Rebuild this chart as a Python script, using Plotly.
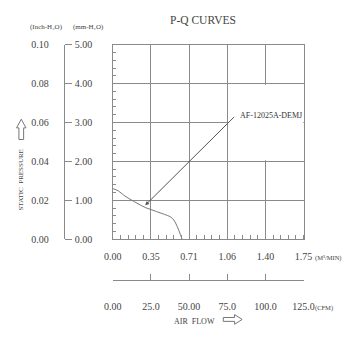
import plotly.graph_objects as go

# ---- data ----
flow_m3min = [0.00, 0.05, 0.10, 0.15, 0.20, 0.25, 0.30, 0.35, 0.40, 0.45, 0.50, 0.53, 0.56, 0.59, 0.62, 0.635]
pressure_mm = [1.30, 1.24, 1.13, 1.04, 0.96, 0.88, 0.81, 0.76, 0.71, 0.66, 0.61, 0.57, 0.49, 0.33, 0.12, 0.00]
model_name = "AF-12025A-DEMJ"

x_tickvals = [0.00, 0.35, 0.70, 1.05, 1.40, 1.75]
x_ticktext = ["0.00", "0.35", "0.71", "1.06", "1.40", "1.75"]
cfm_tickvals = [0, 25, 50, 75, 100, 125]
cfm_ticktext = ["0.00", "25.0", "50.00", "75.0", "100.0", "125.0"]
mm_tickvals = [0, 1, 2, 3, 4, 5]
mm_ticktext = ["0.00", "1.00", "2.00", "3.00", "4.00", "5.00"]
inch_tickvals = [0.00, 0.02, 0.04, 0.06, 0.08, 0.10]
inch_ticktext = ["0.00", "0.02", "0.04", "0.06", "0.08", "0.10"]

W, H = 357, 337
def px(x): return x / W
def py(y): return 1 - y / H

FONT = "Liberation Serif"
TXT = "#444444"
GRID = "#8a8a8a"

fig = go.Figure()
fig.add_trace(go.Scatter(x=flow_m3min, y=pressure_mm, mode="lines", line=dict(color="#777777", width=1, shape="spline"),
                         hoverinfo="skip", showlegend=False))
# empty traces to bind the extra axes
fig.add_trace(go.Scatter(x=[None], y=[None], xaxis="x2", yaxis="y", showlegend=False, hoverinfo="skip"))
fig.add_trace(go.Scatter(x=[None], y=[None], xaxis="x", yaxis="y2", showlegend=False, hoverinfo="skip"))
fig.add_trace(go.Scatter(x=[None], y=[None], xaxis="x", yaxis="y3", showlegend=False, hoverinfo="skip"))

xdom = [px(110), px(312)]
ydom = [py(241), py(40)]

fig.update_layout(
    width=W, height=H, margin=dict(l=0, r=0, t=0, b=0),
    paper_bgcolor="white", plot_bgcolor="white",
    font=dict(family=FONT, size=10, color=TXT),
    xaxis=dict(domain=xdom, range=[0, 1.75], tickvals=x_tickvals, ticktext=x_ticktext,
               showgrid=True, gridcolor=GRID, gridwidth=1, zeroline=False,
               showline=True, linecolor=GRID, linewidth=1, mirror=True,
               ticks="", ticklabelstandoff=8,
               minor=dict(dtick=0.07, tick0=0, ticks="inside", ticklen=4, tickcolor=GRID, showgrid=False)),
    yaxis=dict(domain=ydom, range=[0, 5], tickvals=mm_tickvals, showticklabels=False,
               showgrid=True, gridcolor=GRID, gridwidth=1, zeroline=False,
               showline=True, linecolor=GRID, linewidth=1, mirror=True, ticks="",
               minor=dict(dtick=0.2, tick0=0, ticks="inside", ticklen=3, tickcolor=GRID, showgrid=False)),
    xaxis2=dict(overlaying="x", anchor="free", position=py(283), side="bottom", domain=xdom,
                range=[0, 125], tickvals=cfm_tickvals, ticktext=cfm_ticktext,
                showgrid=False, zeroline=False, showline=True, linecolor=GRID, linewidth=1,
                ticks="inside", ticklen=6, tickcolor=GRID, ticklabelstandoff=17),
    yaxis2=dict(overlaying="y", anchor="free", position=px(58), side="right",
                range=[0, 5], tickvals=mm_tickvals, ticktext=mm_ticktext,
                showgrid=False, zeroline=False, showline=True, linecolor=GRID, linewidth=1,
                ticks="outside", ticklen=7, tickcolor=GRID, ticklabelstandoff=1),
    yaxis3=dict(overlaying="y", anchor="free", position=px(42), side="left",
                range=[0, 0.10], tickvals=inch_tickvals, ticktext=inch_ticktext,
                showgrid=False, zeroline=False, showline=False, ticks=""),
)

# blank box behind the model label
fig.add_shape(type="rect", xref="x", yref="y", x0=1.06, x1=1.75, y0=2.03, y1=3.97,
              fillcolor="white", line=dict(width=0), layer="between")

# model label and leader arrow
fig.add_annotation(x=0.297, y=0.87, ax=1.127, ay=3.18, axref="x", ayref="y", xref="x", yref="y",
                   text=" ", showarrow=True, arrowhead=2, arrowsize=0.8, arrowwidth=1,
                   arrowcolor="#555555", font=dict(size=1))
fig.add_annotation(x=1.145, y=3.18, xref="x", yref="y", text=model_name, showarrow=False,
                   xanchor="left", yanchor="middle", font=dict(size=8, color="#333333"))

def note(text, x, y, size, anchor="center", **kw):
    fig.add_annotation(x=px(x), y=py(y), xref="paper", yref="paper", text=text, showarrow=False,
                       xanchor=anchor, yanchor="middle", font=dict(size=size, color=TXT), **kw)

note("P-Q CURVES", 206, 14, 11.5)
note("(Inch-H₂O)", 40, 22, 7)
note("(mm-H₂O)", 84, 22, 7)
note("STATIC  PRESSURE", 13, 180, 7, textangle=-90)
note("(M³/MIN)", 322, 260, 6.5, anchor="left")
note("(CFM)", 322, 312, 6.5, anchor="left")
note("AIR  FLOW", 196, 326, 8)

def path(pts):
    return "M " + " L ".join(f"{px(a):.5f},{py(b):.5f}" for a, b in pts) + " Z"

up_arrow = [(13, 117), (18, 126), (15.5, 126), (15.5, 138), (10.5, 138), (10.5, 126), (8, 126)]
right_arrow = [(247, 324), (239, 319), (239, 322), (227, 322), (227, 326), (239, 326), (239, 329)]
for pts in (up_arrow, right_arrow):
    fig.add_shape(type="path", xref="paper", yref="paper", path=path(pts),
                  line=dict(color="#777777", width=1), fillcolor="white")

fig.write_html("out.html")
